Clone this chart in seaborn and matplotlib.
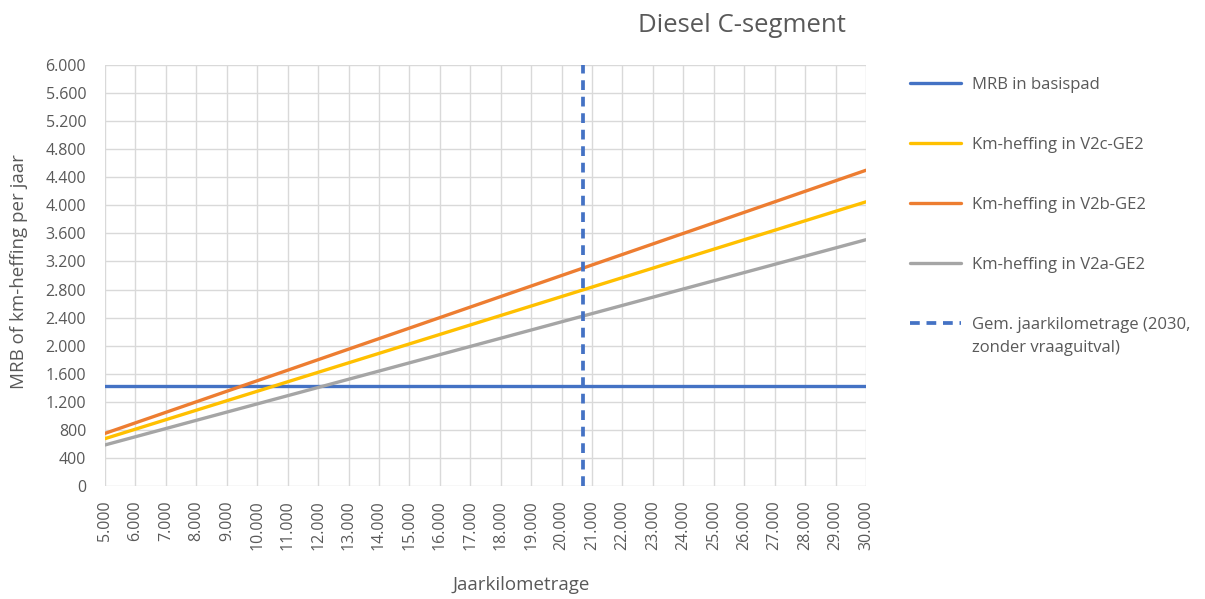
import numpy
import pandas as pd
import seaborn as sns
import matplotlib.pyplot as plt
from matplotlib.ticker import FuncFormatter, MultipleLocator

# values (endpoints of straight lines)
km = [5000, 30000]
mrb_basispad = [1420, 1420]
km_v2c = [675, 4050]
km_v2b = [750, 4500]
km_v2a = [585, 3510]

gem_km = [20700, 20700]
gem_y = [0, 6000]

series_names = ['MRB in basispad', 'Km-heffing in V2c-GE2',
                'Km-heffing in V2b-GE2', 'Km-heffing in V2a-GE2']
series_values = [mrb_basispad, km_v2c, km_v2b, km_v2a]
series_colors = ['#4472C4', '#FFC000', '#ED7D31', '#A5A5A5']
gem_label = ['Gem. jaarkilometrage (2030,', 'zonder vraaguitval)']

TEXT = '#595959'
GRID = '#D9D9D9'


def thousands(v, pos=None):
    return '{:,.0f}'.format(v).replace(',', '.')


def main():
    sns.set_style('white')
    plt.rcParams['font.family'] = ['Open Sans', 'DejaVu Sans']

    rows = []
    for name, vals in zip(series_names, series_values):
        for x, y in zip(km, vals):
            rows.append({'km': x, 'waarde': y, 'serie': name})
    df = pd.DataFrame(rows)

    fig = plt.figure(figsize=(12.05, 5.99), dpi=100)
    ax = fig.add_axes([105 / 1205, 1 - 486 / 599, 761 / 1205, 421 / 599])

    sns.lineplot(data=df, x='km', y='waarde', hue='serie', hue_order=series_names,
                 palette=series_colors, linewidth=2.4, estimator=None, ax=ax,
                 legend=False)
    sns.lineplot(x=gem_km, y=gem_y, color='#4472C4', linewidth=2.7,
                 linestyle=(0, (2.6, 1.8)), estimator=None, sort=False, ax=ax)

    ax.set_xlim(5000, 30000)
    ax.set_ylim(0, 6000)
    ax.xaxis.set_major_locator(MultipleLocator(1000))
    ax.yaxis.set_major_locator(MultipleLocator(400))
    ax.xaxis.set_major_formatter(FuncFormatter(thousands))
    ax.yaxis.set_major_formatter(FuncFormatter(thousands))
    ax.grid(True, color=GRID, linewidth=1)
    ax.set_axisbelow(True)
    for s in ax.spines.values():
        s.set_visible(False)
    ax.tick_params(axis='both', length=0, labelsize=11.5, colors=TEXT)
    ax.tick_params(axis='y', pad=13.5)
    ax.tick_params(axis='x', labelrotation=90, pad=10)
    ax.set_xlabel('')
    ax.set_ylabel('')

    fig.text(742 / 1205, 1 - 26 / 599, 'Diesel C-segment', ha='center', va='center',
             fontsize=18.5, color=TEXT)
    fig.text(521 / 1205, 1 - 585 / 599, 'Jaarkilometrage', ha='center', va='center',
             fontsize=13.5, color=TEXT)
    fig.text(19 / 1205, 1 - 272 / 599, 'MRB of km-heffing per jaar', ha='center',
             va='center', rotation=90, fontsize=13.5, color=TEXT)

    handles = [plt.Line2D([], [], color=c, linewidth=2.4) for c in series_colors]
    handles.append(plt.Line2D([], [], color='#4472C4', linewidth=2.7,
                              linestyle=(0, (2.6, 1.8))))
    labels = series_names + [gem_label[0]]
    leg = fig.legend(handles, labels, loc='upper left',
                     bbox_to_anchor=(903 / 1205, 1 - 70 / 599), frameon=False,
                     fontsize=12, handlelength=3.1, handletextpad=0.65,
                     labelspacing=2.65, borderaxespad=0)
    for t in leg.get_texts():
        t.set_color(TEXT)
    # second line of the last legend entry, hanging under the first
    fig.text(972 / 1205, 1 - 348 / 599, gem_label[1], ha='left', va='center',
             fontsize=12, color=TEXT)

    fig.savefig('out.png', dpi=100)


if __name__ == '__main__':
    main()
